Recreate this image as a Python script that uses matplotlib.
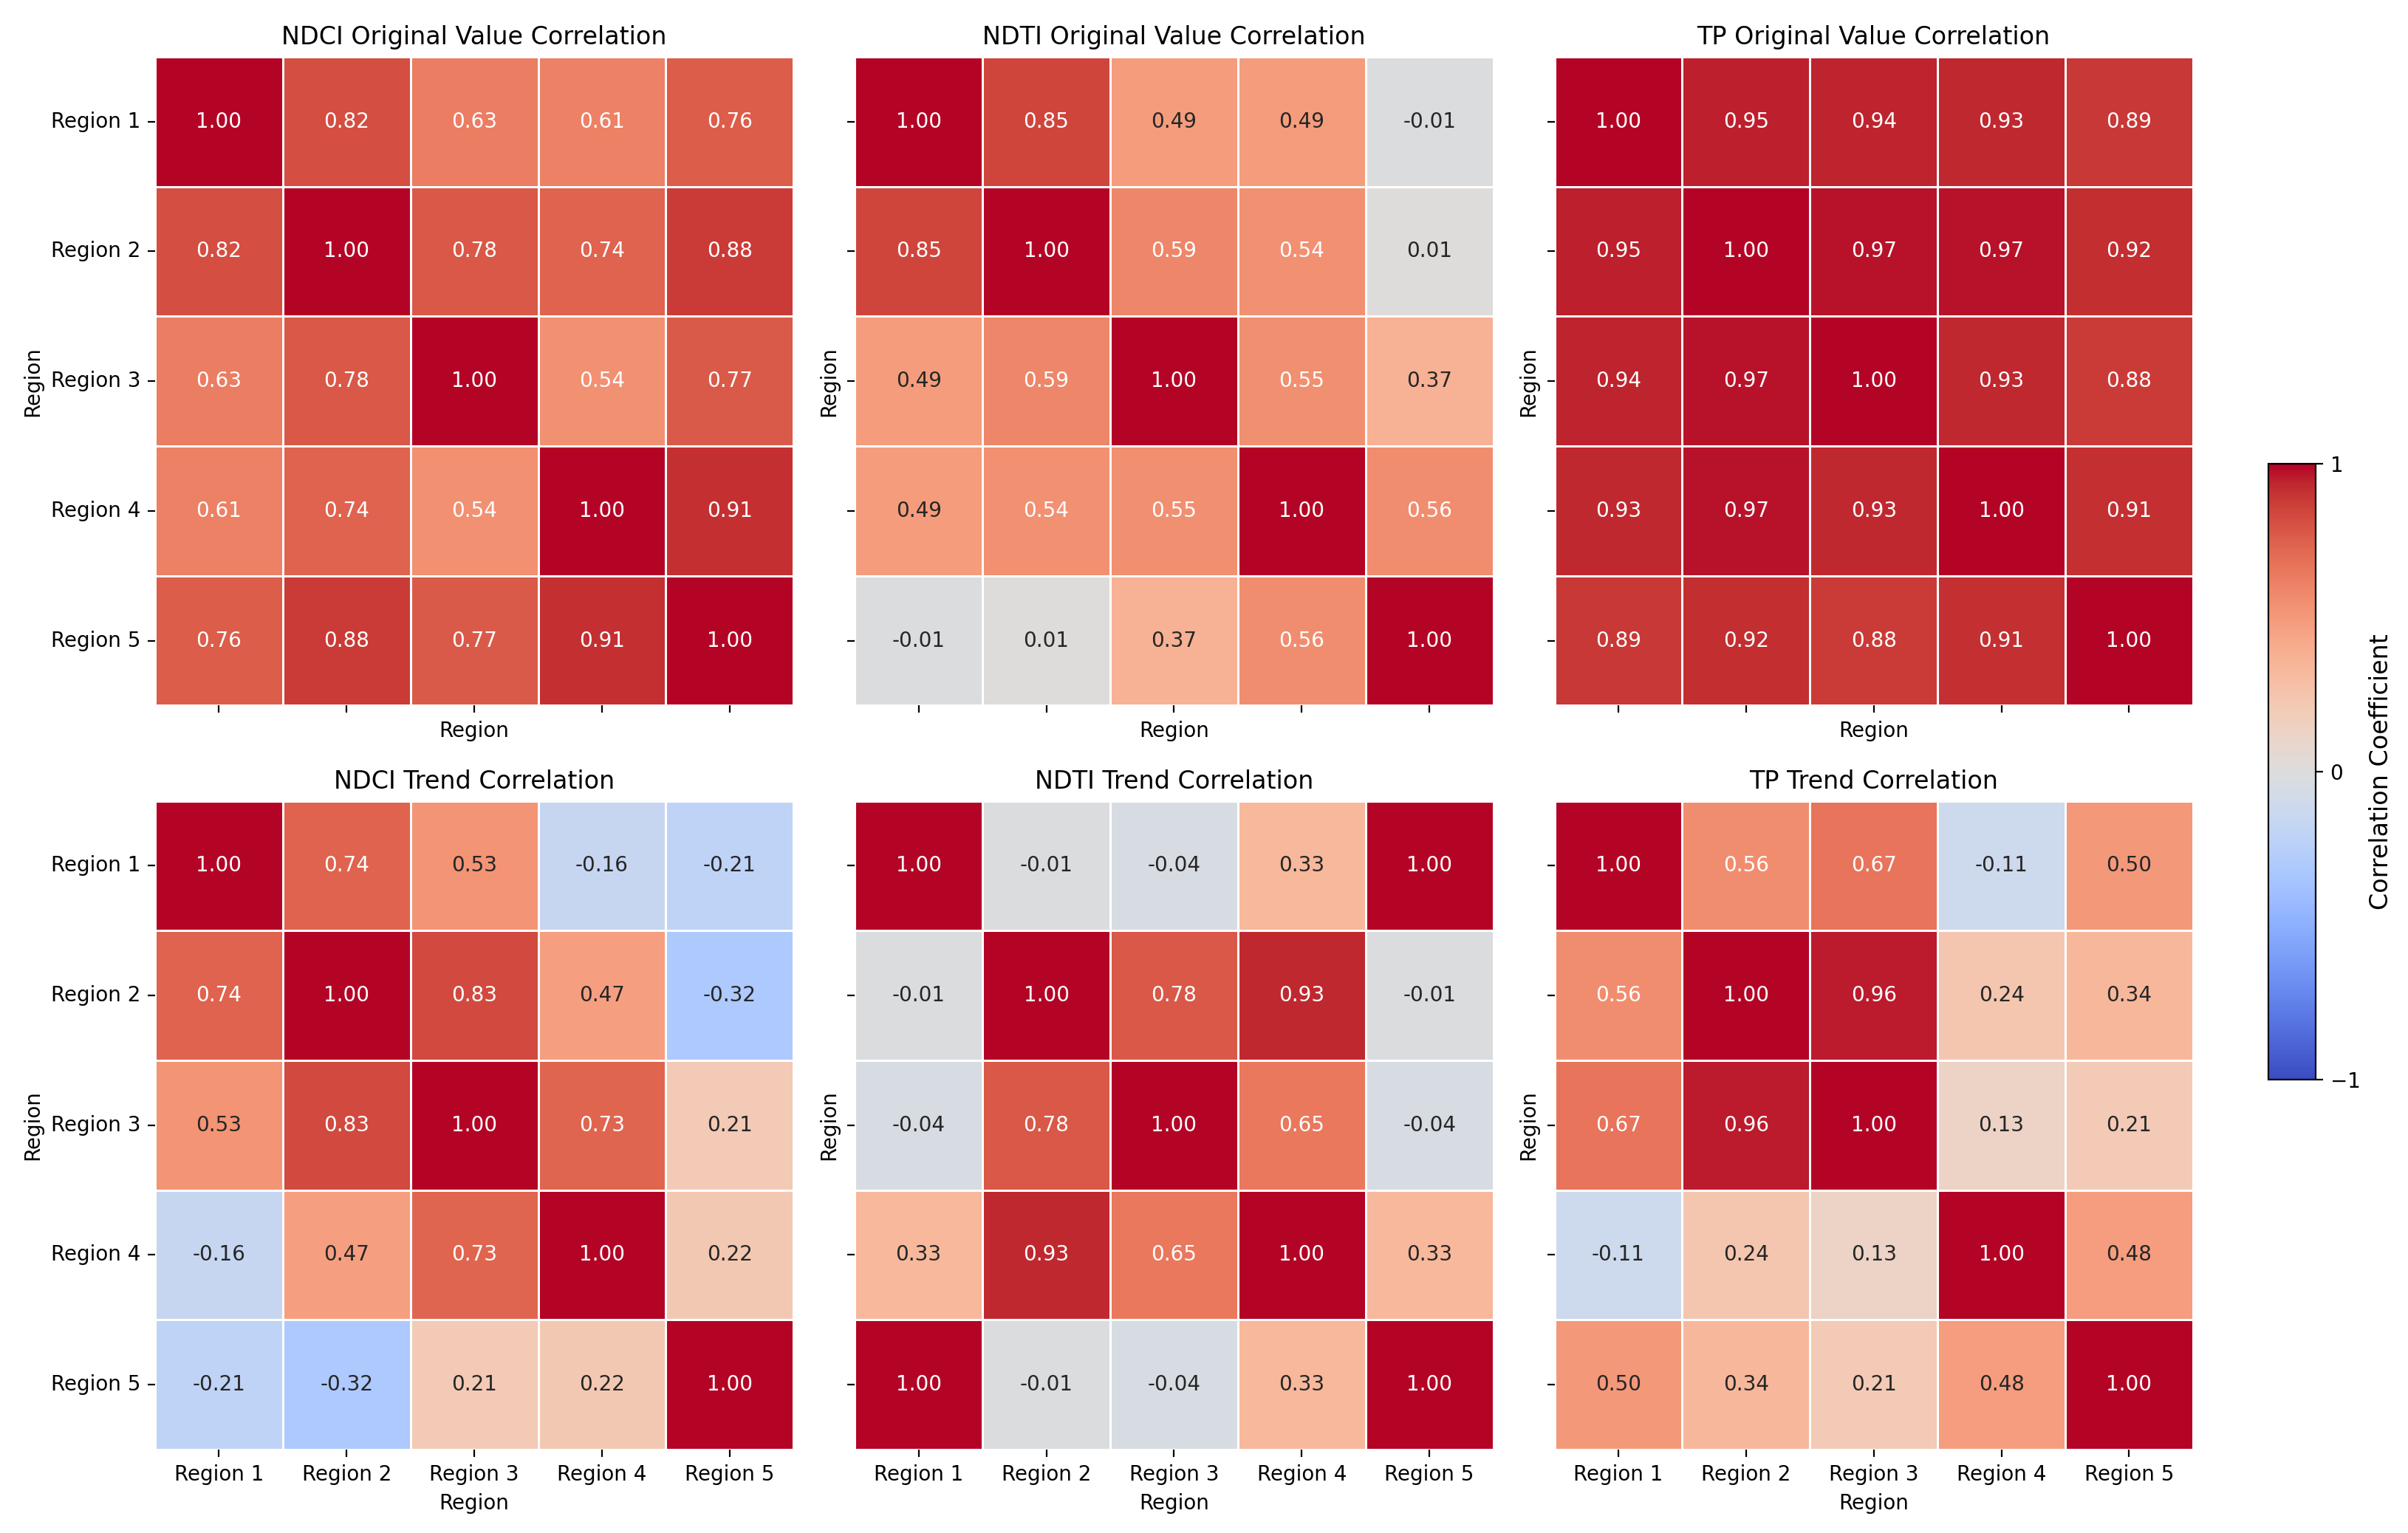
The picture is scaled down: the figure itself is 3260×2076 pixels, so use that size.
import matplotlib
matplotlib.use("Agg")
import matplotlib.pyplot as plt
import seaborn as sns
import numpy as np

regions = ['Region 1', 'Region 2', 'Region 3', 'Region 4', 'Region 5']

ndci_orig = [[1.00, 0.82, 0.63, 0.61, 0.76],
             [0.82, 1.00, 0.78, 0.74, 0.88],
             [0.63, 0.78, 1.00, 0.54, 0.77],
             [0.61, 0.74, 0.54, 1.00, 0.91],
             [0.76, 0.88, 0.77, 0.91, 1.00]]

ndti_orig = [[1.00, 0.85, 0.49, 0.49, -0.01],
             [0.85, 1.00, 0.59, 0.54, 0.01],
             [0.49, 0.59, 1.00, 0.55, 0.37],
             [0.49, 0.54, 0.55, 1.00, 0.56],
             [-0.01, 0.01, 0.37, 0.56, 1.00]]

tp_orig = [[1.00, 0.95, 0.94, 0.93, 0.89],
           [0.95, 1.00, 0.97, 0.97, 0.92],
           [0.94, 0.97, 1.00, 0.93, 0.88],
           [0.93, 0.97, 0.93, 1.00, 0.91],
           [0.89, 0.92, 0.88, 0.91, 1.00]]

ndci_trend = [[1.00, 0.74, 0.53, -0.16, -0.21],
              [0.74, 1.00, 0.83, 0.47, -0.32],
              [0.53, 0.83, 1.00, 0.73, 0.21],
              [-0.16, 0.47, 0.73, 1.00, 0.22],
              [-0.21, -0.32, 0.21, 0.22, 1.00]]

ndti_trend = [[1.00, -0.01, -0.04, 0.33, 1.00],
              [-0.01, 1.00, 0.78, 0.93, -0.01],
              [-0.04, 0.78, 1.00, 0.65, -0.04],
              [0.33, 0.93, 0.65, 1.00, 0.33],
              [1.00, -0.01, -0.04, 0.33, 1.00]]

tp_trend = [[1.00, 0.56, 0.67, -0.11, 0.50],
            [0.56, 1.00, 0.96, 0.24, 0.34],
            [0.67, 0.96, 1.00, 0.13, 0.21],
            [-0.11, 0.24, 0.13, 1.00, 0.48],
            [0.50, 0.34, 0.21, 0.48, 1.00]]

matrices = [ndci_orig, ndti_orig, tp_orig, ndci_trend, ndti_trend, tp_trend]
titles = ['NDCI Original Value Correlation', 'NDTI Original Value Correlation',
          'TP Original Value Correlation', 'NDCI Trend Correlation',
          'NDTI Trend Correlation', 'TP Trend Correlation']

fig, axes = plt.subplots(2, 3, figsize=(16.3, 10.38), sharex=True, sharey=True)
fig.subplots_adjust(left=0.0644, right=0.9107, bottom=0.0544, top=0.963,
                    wspace=0.096, hspace=0.147)
cax = fig.add_axes([0.942, 0.296, 0.0197, 0.4015])

for i, ax in enumerate(axes.flat):
    sns.heatmap(np.array(matrices[i]), ax=ax, cmap='coolwarm', vmin=-1, vmax=1,
                annot=True, fmt='.2f', linewidths=1, linecolor='white',
                xticklabels=regions, yticklabels=regions,
                cbar=(i == 0), cbar_ax=cax if i == 0 else None,
                annot_kws={'size': 10})
    ax.set_title(titles[i], fontsize=12)
    ax.set_xlabel('Region')
    ax.set_ylabel('Region')
    ax.tick_params(axis='y', labelrotation=0)
    ax.tick_params(axis='x', labelrotation=0)

cbar = axes.flat[0].collections[0].colorbar
cbar.set_ticks([-1, 0, 1])
cbar.set_label('Correlation Coefficient', fontsize=12)
cbar.outline.set_visible(True)
cbar.outline.set_edgecolor('black')
cbar.outline.set_linewidth(0.8)

fig.savefig('out.png', dpi=200)
